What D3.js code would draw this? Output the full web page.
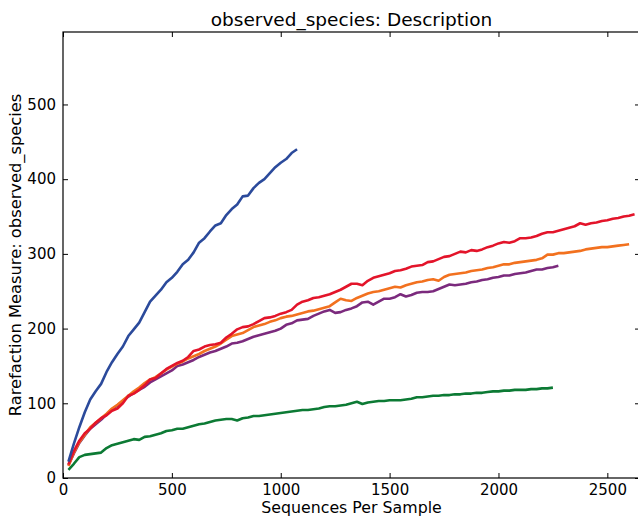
<!DOCTYPE html>
<html>
<head>
<meta charset="utf-8">
<script src="https://cdn.jsdelivr.net/npm/d3@7"></script>
<style>
  body { margin: 0; background: #fff; }
  svg { display: block; font-family: "DejaVu Sans", sans-serif; }
</style>
</head>
<body>
<svg id="chart" width="638" height="517"></svg>
<script>
// sequences per sample (rarefaction depths), ten per row
var depths = [
  25, 50, 75, 100, 125, 150, 175, 200, 225, 250,
  275, 300, 325, 350, 375, 400, 425, 450, 475, 500,
  525, 550, 575, 600, 625, 650, 675, 700, 725, 750,
  775, 800, 825, 850, 875, 900, 925, 950, 975, 1000,
  1025, 1050, 1075, 1100, 1125, 1150, 1175, 1200, 1225, 1250,
  1275, 1300, 1325, 1350, 1375, 1400, 1425, 1450, 1475, 1500,
  1525, 1550, 1575, 1600, 1625, 1650, 1675, 1700, 1725, 1750,
  1775, 1800, 1825, 1850, 1875, 1900, 1925, 1950, 1975, 2000,
  2025, 2050, 2075, 2100, 2125, 2150, 2175, 2200, 2225, 2250,
  2275, 2300, 2325, 2350, 2375, 2400, 2425, 2450, 2475, 2500,
  2525, 2550, 2575, 2600, 2625];

var blueVals = [
  22, 46, 68, 88, 105, 116, 126, 142, 155, 166,
  176, 190, 199, 208, 222, 236, 244, 252, 262, 268,
  276, 286, 292, 302, 315, 321, 330, 338, 341, 352,
  360, 366, 377, 378, 388, 395, 400, 408, 416, 422,
  427, 435, 440];
var redVals = [
  18, 36, 50, 60, 66, 74, 80, 84, 90, 93,
  100, 110, 113, 118, 124, 132, 134, 140, 146, 150,
  154, 157, 162, 170, 172, 176, 178, 179, 181, 188,
  193, 199, 202, 203, 206, 210, 214, 215, 217, 220,
  222, 225, 232, 236, 238, 241, 242, 244, 246, 249,
  252, 256, 260, 260, 258, 264, 268, 270, 272, 274,
  277, 278, 280, 283, 284, 285, 289, 290, 293, 296,
  297, 300, 303, 302, 305, 304, 306, 309, 311, 314,
  316, 315, 317, 321, 321, 322, 324, 327, 329, 329,
  331, 333, 335, 337, 341, 339, 341, 342, 344, 345,
  347, 348, 350, 351, 353];
var orangeVals = [
  16, 34, 48, 58, 68, 74, 80, 86, 93, 98,
  104, 110, 116, 121, 127, 132, 135, 140, 145, 149,
  153, 156, 160, 163, 166, 170, 173, 176, 180, 185,
  190, 192, 194, 198, 202, 204, 206, 209, 211, 214,
  216, 217, 219, 221, 223, 224, 226, 228, 230, 235,
  240, 238, 237, 241, 244, 247, 249, 250, 252, 254,
  256, 255, 258, 260, 262, 263, 265, 266, 264, 269,
  272, 273, 274, 275, 277, 278, 279, 281, 282, 284,
  286, 286, 288, 289, 290, 291, 292, 294, 299, 299,
  301, 301, 302, 303, 304, 306, 307, 308, 309, 309,
  310, 311, 312, 313];
var purpleVals = [
  17, 33, 47, 57, 66, 72, 78, 85, 92, 97,
  103, 109, 114, 118, 122, 128, 132, 136, 140, 144,
  150, 152, 155, 158, 162, 165, 168, 170, 173, 176,
  180, 181, 183, 186, 189, 191, 193, 195, 197, 200,
  205, 207, 211, 212, 213, 217, 220, 223, 225, 221,
  222, 225, 227, 230, 235, 236, 232, 236, 240, 240,
  242, 246, 243, 245, 248, 249, 249, 250, 253, 256,
  259, 258, 259, 260, 262, 263, 265, 266, 268, 269,
  271, 271, 273, 274, 275, 277, 279, 279, 281, 282,
  284];
var greenVals = [
  11, 19, 28, 31, 32, 33, 34, 40, 44, 46,
  48, 50, 52, 51, 55, 56, 58, 60, 63, 64,
  66, 66, 68, 70, 72, 73, 75, 77, 78, 79,
  79, 77, 80, 81, 83, 83, 84, 85, 86, 87,
  88, 89, 90, 91, 91, 92, 93, 95, 96, 96,
  97, 98, 100, 102, 99, 101, 102, 103, 103, 104,
  104, 104, 105, 106, 108, 108, 109, 110, 110, 111,
  111, 112, 112, 113, 113, 114, 114, 115, 116, 116,
  117, 117, 118, 118, 118, 119, 119, 120, 120, 121];

var xTicks = [0, 500, 1000, 1500, 2000, 2500];
var yTicks = [0, 100, 200, 300, 400, 500];

var series = [
  {name: "green", color: "#0c7a34", values: greenVals},
  {name: "purple", color: "#7b2a7d", values: purpleVals},
  {name: "orange", color: "#f2711f", values: orangeVals},
  {name: "red", color: "#e3142a", values: redVals},
  {name: "blue", color: "#2b4a9b", values: blueVals}
];

var svg = d3.select("#chart"),
    margin = {top: 32, right: -2, bottom: 39, left: 63},
    width = svg.attr("width") - margin.left - margin.right,
    height = svg.attr("height") - margin.top - margin.bottom,
    g = svg.append("g").attr("transform", "translate(" + margin.left + "," + margin.top + ")");

var x = d3.scaleLinear().domain([0, 2650]).range([0, width]),
    y = d3.scaleLinear().domain([0, 597]).range([height, 0]);

var line = d3.line()
    .x(function(d) { return x(d.x); })
    .y(function(d) { return y(d.y); });

series.forEach(function(s) {
  var pts = s.values.map(function(v, i) { return {x: depths[i], y: v}; });
  g.append("path")
      .attr("d", line(pts))
      .attr("fill", "none")
      .attr("stroke", s.color)
      .attr("stroke-width", 2.6)
      .attr("stroke-linejoin", "round");
});

// axes, ticks pointing inward on all four sides
var fmt = d3.format("d");
g.append("g")
    .attr("transform", "translate(0," + height + ")")
    .call(d3.axisBottom(x).tickValues(xTicks).tickFormat(fmt).tickSizeInner(-5).tickSizeOuter(0).tickPadding(6));
g.append("g")
    .call(d3.axisTop(x).tickValues(xTicks).tickSizeInner(-5).tickSizeOuter(0).tickFormat(""));
g.append("g")
    .call(d3.axisLeft(y).tickValues(yTicks).tickFormat(fmt).tickSizeInner(-5).tickSizeOuter(0).tickPadding(7));
g.append("g")
    .attr("transform", "translate(" + width + ",0)")
    .call(d3.axisRight(y).tickValues(yTicks).tickSizeInner(-5).tickSizeOuter(0).tickFormat(""));

g.selectAll(".domain").remove();
g.selectAll(".tick line").attr("stroke", "#000").attr("stroke-width", 1);
g.selectAll(".tick text")
    .attr("font-family", "DejaVu Sans, sans-serif")
    .attr("font-size", 15)
    .attr("fill", "#000");

g.append("rect")
    .attr("width", width)
    .attr("height", height)
    .attr("fill", "none")
    .attr("stroke", "#000")
    .attr("stroke-width", 1.2);

svg.append("text")
    .attr("x", margin.left + width / 2)
    .attr("y", 26)
    .attr("text-anchor", "middle")
    .attr("font-size", 18.5)
    .text("observed_species: Description");

svg.append("text")
    .attr("x", margin.left + width / 2)
    .attr("y", 513)
    .attr("text-anchor", "middle")
    .attr("font-size", 15.8)
    .text("Sequences Per Sample");

svg.append("text")
    .attr("transform", "translate(21," + (margin.top + height / 2) + ") rotate(-90)")
    .attr("text-anchor", "middle")
    .attr("font-size", 16.3)
    .text("Rarefaction Measure: observed_species");
</script>
</body>
</html>
